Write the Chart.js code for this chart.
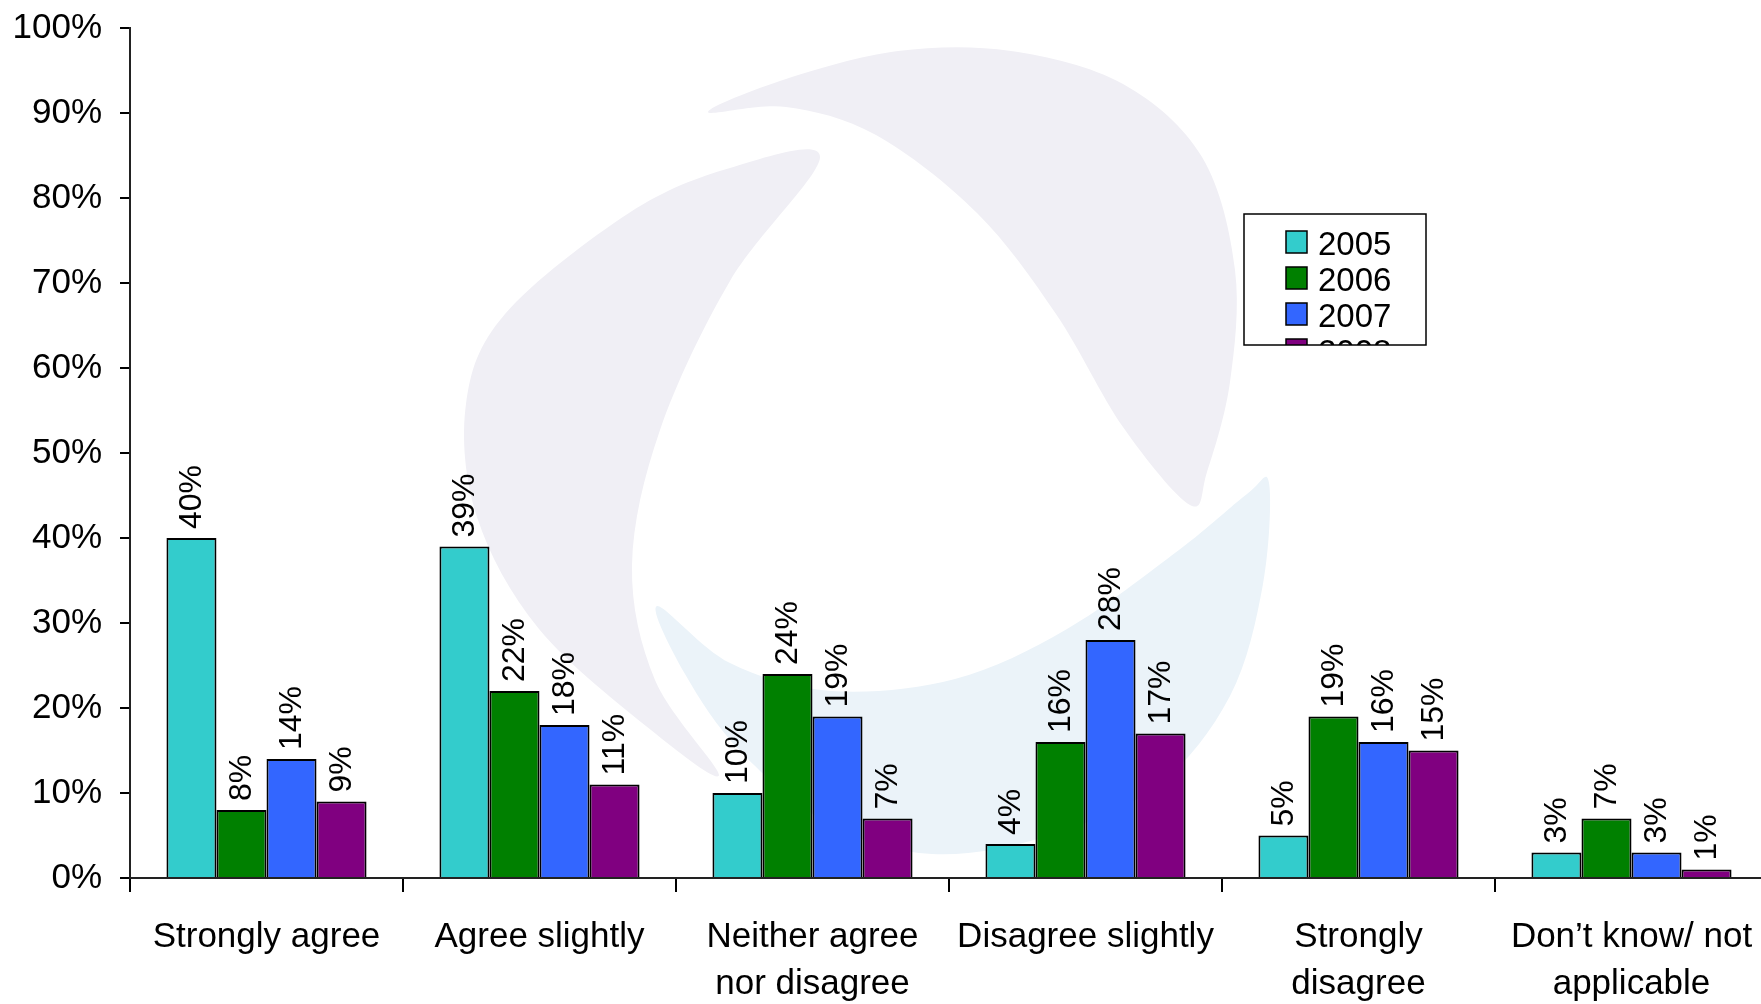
<!DOCTYPE html>
<html>
<head>
<meta charset="utf-8">
<script src="https://cdn.jsdelivr.net/npm/chart.js@4.4.1/dist/chart.umd.min.js"></script>
<style>
  html, body { margin: 0; padding: 0; background: #fff; overflow: hidden; }
  #caja { position: relative; width: 1768px; height: 1004px; }
</style>
</head>
<body>
<div id="caja"><canvas id="grafica"></canvas></div>
<script>
// datos
const categorias = ['Strongly agree', 'Agree slightly', ['Neither agree', 'nor disagree'], 'Disagree slightly', ['Strongly', 'disagree'], ['Don’t know/ not', 'applicable']];
const anios = ['2005', '2006', '2007', '2008'];
const valores2005 = [40, 39, 10, 4, 5, 3];
const valores2006 = [8, 22, 24, 16, 19, 7];
const valores2007 = [14, 18, 19, 28, 16, 3];
const valores2008 = [9, 11, 7, 17, 15, 1];
const colores = ['#33CCCC', '#008000', '#3366FF', '#800080'];
const yMax = 100;
const yPaso = 10;

const fuente = 'Liberation Sans, Arial, sans-serif';

// logo de fondo (decorativo)
function trazoSuave(ctx, pts) {
    const n = pts.length;
    ctx.moveTo(pts[0][0], pts[0][1]);
    for (let i = 0; i < n; i++) {
        const p0 = pts[(i - 1 + n) % n], p1 = pts[i], p2 = pts[(i + 1) % n], p3 = pts[(i + 2) % n];
        ctx.bezierCurveTo(
            p1[0] + (p2[0] - p0[0]) / 6, p1[1] + (p2[1] - p0[1]) / 6,
            p2[0] - (p3[0] - p1[0]) / 6, p2[1] - (p3[1] - p1[1]) / 6,
            p2[0], p2[1]);
    }
    ctx.closePath();
}

const formaA = [[820,157],[730,281],[660,430],[632,565],[655,680],[719,775],[651,730],[539,629],[477,517],[466,404],[505,314],[629,213],[730,168]];
const formaB = [[708,112],[786,79],[898,51],[1011,51],[1123,84],[1202,157],[1235,270],[1230,382],[1207,472],[1190,505],[1123,427],[1056,314],[977,213],[876,135],[786,107]];
const formaC = [[1269,483],[1263,584],[1230,696],[1157,786],[1044,837],[932,854],[831,825],[741,752],[685,674],[657,606],[730,663],[831,691],[955,679],[1067,629],[1179,550],[1247,494]];

const logoFondo = {
    id: 'logoFondo',
    beforeDatasetsDraw(chart) {
        const ctx = chart.ctx;
        ctx.save();
        [[formaA, '#F0EFF5'], [formaB, '#F0EFF5'], [formaC, '#EBF3F9']].forEach(function(f) {
            ctx.beginPath();
            trazoSuave(ctx, f[0]);
            ctx.fillStyle = f[1];
            ctx.fill();
        });
        ctx.restore();
    }
};

const etiquetas = {
    id: 'etiquetas',
    afterDatasetsDraw(chart) {
        const ctx = chart.ctx;
        ctx.save();
        ctx.font = '32px ' + fuente;
        ctx.fillStyle = '#000';
        ctx.textAlign = 'left';
        ctx.textBaseline = 'middle';
        chart.data.datasets.forEach(function(ds, i) {
            chart.getDatasetMeta(i).data.forEach(function(bar, j) {
                ctx.save();
                ctx.translate(bar.x, bar.y - 9);
                ctx.rotate(-Math.PI / 2);
                ctx.fillText(ds.data[j] + '%', 0, 1);
                ctx.restore();
            });
        });
        ctx.restore();
    }
};

const leyenda = {
    id: 'leyenda',
    afterDraw(chart) {
        const ctx = chart.ctx;
        const x = 1244, y = 214, w = 182, h = 131;
        ctx.save();
        ctx.fillStyle = '#fff';
        ctx.fillRect(x, y, w, h);
        ctx.beginPath();
        ctx.rect(x, y, w, h);
        ctx.clip();
        ctx.font = '33px ' + fuente;
        ctx.textBaseline = 'alphabetic';
        chart.data.datasets.forEach(function(ds, i) {
            const fy = y + 17 + i * 36;
            ctx.fillStyle = ds.backgroundColor;
            ctx.fillRect(x + 42, fy, 21, 22);
            ctx.strokeStyle = '#000';
            ctx.lineWidth = 1.5;
            ctx.strokeRect(x + 42, fy, 21, 22);
            ctx.fillStyle = '#000';
            ctx.fillText(ds.label, x + 74, fy + 24);
        });
        ctx.restore();
        ctx.save();
        ctx.strokeStyle = '#000';
        ctx.lineWidth = 1.5;
        ctx.strokeRect(x, y, w, h);
        ctx.restore();
    }
};

const series = [valores2005, valores2006, valores2007, valores2008];

new Chart(document.getElementById('grafica').getContext('2d'), {
    type: 'bar',
    data: {
        labels: categorias,
        datasets: anios.map(function(a, i) {
            return {
                label: a,
                data: series[i],
                backgroundColor: colores[i],
                borderColor: '#000',
                borderWidth: 2,
                barPercentage: 1,
                categoryPercentage: 0.733
            };
        })
    },
    options: {
        responsive: true,
        maintainAspectRatio: false,
        animation: false,
        devicePixelRatio: 1,
        layout: { padding: { top: 28, left: 0, right: 0, bottom: 0 } },
        plugins: {
            legend: { display: false },
            tooltip: { enabled: false }
        },
        scales: {
            x: {
                grid: { offset: true, drawOnChartArea: false, drawTicks: true, tickLength: 14, color: '#000', lineWidth: 2 },
                border: { display: true, color: '#222', width: 2 },
                ticks: {
                    color: '#000',
                    font: { family: fuente, size: 35, lineHeight: 1.34 },
                    padding: 22,
                    maxRotation: 0,
                    autoSkip: false
                },
                afterFit: function(s) { s.height = 126; s.paddingLeft = 0; s.paddingRight = 0; }
            },
            y: {
                min: 0,
                max: yMax,
                grid: { drawOnChartArea: false, drawTicks: true, tickLength: 10, color: '#000', lineWidth: 2 },
                border: { display: true, color: '#222', width: 2 },
                ticks: {
                    stepSize: yPaso,
                    color: '#000',
                    font: { family: fuente, size: 35 },
                    padding: 18,
                    callback: function(v) { return v + '%'; }
                },
                afterFit: function(s) { s.width = 130; s.paddingTop = 0; s.paddingBottom = 0; }
            }
        }
    },
    plugins: [logoFondo, etiquetas, leyenda]
});
</script>
</body>
</html>
